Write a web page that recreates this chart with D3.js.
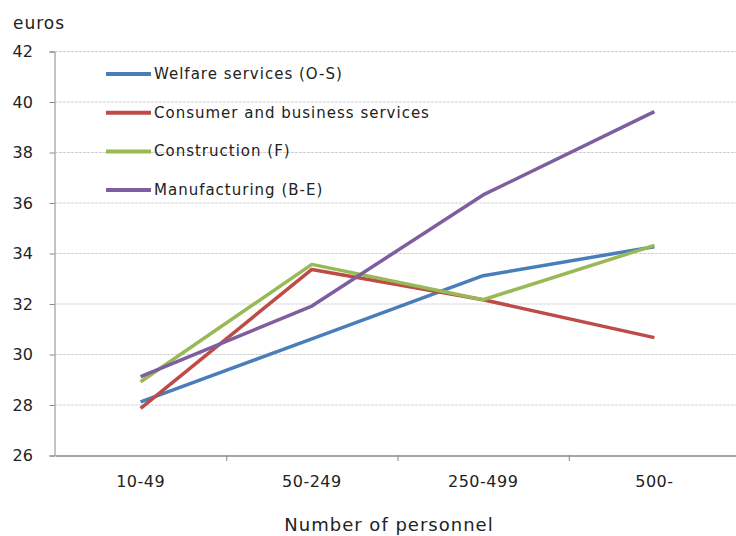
<!DOCTYPE html>
<html>
<head>
<meta charset="utf-8">
<script src="https://d3js.org/d3.v7.min.js"></script>
<style>
  body { margin: 0; background: #fff; }
  svg { display: block; }
  text { font-family: "DejaVu Sans", Verdana, sans-serif; fill: #222; }
</style>
</head>
<body>
<svg width="736" height="536"></svg>
<script>
// personnel size classes
var categories = ["10-49", "50-249", "250-499", "500-"];
var yTicks = [26, 28, 30, 32, 34, 36, 38, 40, 42];

var welfare = [28.1, 30.6, 33.1, 34.25];
var consumer = [27.85, 33.35, 32.15, 30.65];
var construction = [28.9, 33.55, 32.15, 34.3];
var manufacturing = [29.1, 31.9, 36.3, 39.6];

var seriesNames = ["Welfare services (O-S)", "Consumer and business services", "Construction (F)", "Manufacturing (B-E)"];
var seriesColors = ["#4a7ebb", "#be4b48", "#98b954", "#7d5fa0"];
var seriesValues = [welfare, consumer, construction, manufacturing];

var svg = d3.select("svg");

var plotLeft = 55, plotRight = 740, plotTop = 51, plotBottom = 455;

var x = d3.scaleBand()
	.domain(categories)
	.range([plotLeft, plotRight]);

var y = d3.scaleLinear()
	.domain([26, 42])
	.range([plotBottom, plotTop]);

// grid
svg.append("g")
	.selectAll("line")
	.data(yTicks.slice(1))
	.enter()
	.append("line")
	.attr("x1", plotLeft)
	.attr("x2", 736)
	.attr("y1", function(d) { return y(d) + 0.5; })
	.attr("y2", function(d) { return y(d) + 0.5; })
	.style("stroke", "#cfcfd8")
	.style("stroke-width", "1px")
	.style("stroke-dasharray", "3,1");

// y axis
var yAxis = svg.append("g")
	.attr("transform", "translate(" + (plotLeft - 0.5) + ",0.5)")
	.call(d3.axisLeft(y).tickValues(yTicks).tickSize(5).tickPadding(20));
yAxis.select(".domain").style("stroke", "#888");
yAxis.selectAll(".tick line").style("stroke", "#888");
yAxis.selectAll(".tick text")
	.style("font-size", "16px")
	.style("fill", "#222")
	.attr("text-anchor", "start")
	.attr("x", -42);

// x axis
var xAxis = svg.append("g")
	.attr("transform", "translate(0," + (plotBottom + 0.5) + ")")
	.call(d3.axisBottom(x).tickSize(0).tickPadding(20));
xAxis.select(".domain").style("stroke", "#888").style("stroke-width", "1.5px");
xAxis.selectAll(".tick text")
	.style("font-size", "16px")
	.style("letter-spacing", "0.5px")
	.style("fill", "#222");

// x tick marks at band edges
svg.append("g")
	.selectAll("line")
	.data(categories)
	.enter()
	.append("line")
	.attr("x1", function(d) { return x(d) + x.bandwidth() + 0.5; })
	.attr("x2", function(d) { return x(d) + x.bandwidth() + 0.5; })
	.attr("y1", plotBottom)
	.attr("y2", plotBottom + 6)
	.style("stroke", "#888");

// lines
var line = d3.line()
	.x(function(d, i) { return x(categories[i]) + x.bandwidth() / 2; })
	.y(function(d) { return y(d); });

svg.append("g")
	.selectAll("path")
	.data(seriesValues)
	.enter()
	.append("path")
	.attr("d", line)
	.style("fill", "none")
	.style("stroke", function(d, i) { return seriesColors[i]; })
	.style("stroke-width", "3.5px")
	.style("stroke-linejoin", "round");

// legend
var legend = svg.append("g")
	.selectAll("g")
	.data(seriesNames)
	.enter()
	.append("g")
	.attr("transform", function(d, i) { return "translate(106," + (74 + i * 38.7) + ")"; });

legend.append("line")
	.attr("x1", 0)
	.attr("x2", 45)
	.style("stroke", function(d, i) { return seriesColors[i]; })
	.style("stroke-width", "4px");

legend.append("text")
	.attr("x", 48)
	.attr("y", 5)
	.style("font-size", "15px")
	.style("letter-spacing", "1px")
	.text(function(d) { return d; });

// titles
svg.append("text")
	.attr("x", 13)
	.attr("y", 29)
	.style("font-size", "17px")
	.style("letter-spacing", "1px")
	.text("euros");

svg.append("text")
	.attr("x", 389)
	.attr("y", 531)
	.attr("text-anchor", "middle")
	.style("font-size", "18px")
	.style("letter-spacing", "1px")
	.text("Number of personnel");
</script>
</body>
</html>
